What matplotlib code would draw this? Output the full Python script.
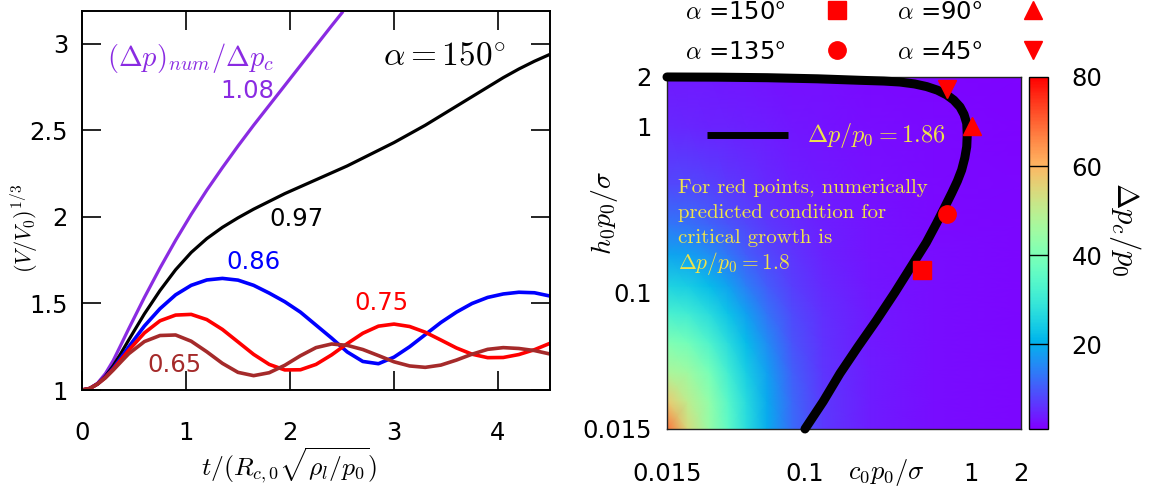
import numpy as np
import matplotlib
matplotlib.use("Agg")
import matplotlib.pyplot as plt
from matplotlib.ticker import NullLocator

plt.rcParams['font.family'] = 'DejaVu Sans'
plt.rcParams['mathtext.fontset'] = 'cm'
plt.rcParams['font.size'] = 17.5

# ---- left panel: (V/V0)^(1/3) against scaled time ----
t_grid = [0.0, 0.075, 0.15, 0.225, 0.3, 0.375, 0.45, 0.6, 0.75, 0.9, 1.05,
          1.2, 1.35, 1.5, 1.65, 1.8, 1.95, 2.1, 2.25, 2.4, 2.55, 2.7, 2.85,
          3.0, 3.15, 3.3, 3.45, 3.6, 3.75, 3.9, 4.05, 4.2, 4.35, 4.5]

t_108 = [0.0, 0.075, 0.15, 0.225, 0.3, 0.375, 0.45, 0.6, 0.75, 0.9, 1.05,
         1.2, 1.35, 1.5, 1.65, 1.8, 1.95, 2.1, 2.25, 2.4, 2.5]
r_108 = [1.0, 1.01, 1.04, 1.095, 1.17, 1.262, 1.355, 1.535, 1.705, 1.865, 2.015,
         2.155, 2.285, 2.41, 2.53, 2.645, 2.76, 2.875, 2.99, 3.105, 3.18]

r_097 = [1.0, 1.009, 1.035, 1.08, 1.14, 1.213, 1.29, 1.44, 1.575, 1.695, 1.795,
         1.875, 1.94, 1.995, 2.045, 2.09, 2.135, 2.175, 2.215, 2.255, 2.295,
         2.34, 2.385, 2.43, 2.48, 2.53, 2.585, 2.64, 2.695, 2.75, 2.805,
         2.855, 2.90, 2.94]
r_086 = [1.0, 1.009, 1.035, 1.075, 1.125, 1.187, 1.25, 1.37, 1.47, 1.55, 1.605,
         1.636, 1.645, 1.635, 1.605, 1.56, 1.51, 1.45, 1.375, 1.30, 1.22,
         1.165, 1.152, 1.19, 1.25, 1.32, 1.39, 1.45, 1.50, 1.535, 1.555,
         1.565, 1.562, 1.543]
r_075 = [1.0, 1.009, 1.035, 1.073, 1.12, 1.175, 1.23, 1.33, 1.40, 1.433, 1.437,
         1.407, 1.350, 1.278, 1.206, 1.148, 1.116, 1.117, 1.148, 1.203, 1.268,
         1.328, 1.369, 1.381, 1.367, 1.334, 1.289, 1.243, 1.207, 1.187, 1.188,
         1.205, 1.233, 1.27]
r_065 = [1.0, 1.009, 1.035, 1.07, 1.115, 1.163, 1.21, 1.28, 1.315, 1.318, 1.282,
         1.221, 1.154, 1.102, 1.083, 1.100, 1.143, 1.198, 1.245, 1.266, 1.258,
         1.234, 1.199, 1.163, 1.139, 1.131, 1.144, 1.173, 1.207, 1.235, 1.245,
         1.240, 1.228, 1.208]

left_yticks = [1, 1.5, 2, 2.5, 3]
left_yticklabels = ['1', '1.5', '2', '2.5', '3']
left_xticks = [0, 1, 2, 3, 4]

# ---- right panel: critical pressure map ----
c_nodes = [0.015, 0.02, 0.027, 0.035, 0.045, 0.06, 0.085, 0.13, 0.25, 0.6, 2.0]
h_nodes = [0.015, 0.022, 0.033, 0.05, 0.075, 0.11, 0.17, 0.26, 0.45, 1.0, 2.0]
dpc = [
    [68, 54, 44, 35.4, 27.3, 19.8, 11.9, 6.8, 3.9, 2.5, 1.8],
    [57, 50, 43, 34.3, 26.7, 19.4, 11.6, 6.8, 3.8, 2.5, 1.8],
    [47.4, 45.3, 39.2, 31.2, 24.7, 18, 10.6, 6.5, 3.8, 2.5, 1.76],
    [40.5, 38.5, 32.8, 27.2, 21.8, 15.8, 9.6, 6.2, 3.65, 2.47, 1.75],
    [31.9, 30.7, 27.2, 22.8, 18.1, 13.0, 8.5, 5.7, 3.5, 2.42, 1.73],
    [25.6, 24.6, 21.9, 18.5, 14.2, 10.3, 7.4, 5.1, 3.3, 2.36, 1.71],
    [18.8, 18.1, 15.9, 13.3, 10.4, 8.3, 6.3, 4.4, 3.0, 2.3, 1.69],
    [13.2, 12.7, 11.1, 9.5, 8.3, 6.7, 5.4, 4.1, 2.9, 2.2, 1.66],
    [8.4, 8.2, 7.5, 6.8, 6.2, 5.3, 4.3, 3.6, 2.74, 2.06, 1.62],
    [5.1, 5.0, 4.7, 4.4, 4.2, 3.9, 3.4, 2.9, 2.47, 1.94, 1.55],
    [3.7, 3.7, 3.6, 3.44, 3.23, 2.98, 2.84, 2.63, 2.23, 1.85, 1.46],
]

# contour of dp/p0 = 1.86
cont_c = [0.015, 0.03, 0.06, 0.12, 0.216, 0.3, 0.375, 0.46, 0.543, 0.63,
          0.716, 0.79, 0.861, 0.91, 0.945, 0.952, 0.945, 0.92, 0.881, 0.83,
          0.768, 0.70, 0.623, 0.54, 0.451, 0.35, 0.272, 0.21, 0.164, 0.13,
          0.101]
cont_h = [2.0, 1.995, 1.98, 1.95, 1.91, 1.89, 1.865, 1.815, 1.75, 1.665,
          1.56, 1.45, 1.32, 1.19, 1.05, 0.90, 0.759, 0.65, 0.549, 0.47,
          0.398, 0.33, 0.262, 0.2, 0.150, 0.1, 0.0682, 0.047, 0.0325, 0.022,
          0.015]

# numerical critical points for each contact angle
pt_labels = [r'$\alpha$ =150$^{\mathsf{o}}$', r'$\alpha$ =135$^{\mathsf{o}}$',
             r'$\alpha$ =90$^{\mathsf{o}}$', r'$\alpha$ =45$^{\mathsf{o}}$']
pt_c = [0.507, 0.716, 1.01, 0.716]
pt_h = [0.137, 0.298, 1.01, 1.69]
pt_marker = ['s', 'o', '^', 'v']

c_ticks = [0.015, 0.1, 1, 2]
c_ticklabels = ['0.015', '0.1', '1', '2']
h_ticks = [0.015, 0.1, 1, 2]
h_ticklabels = ['0.015', '0.1', '1', '2']
cb_ticks = [20, 40, 60, 80]

fig = plt.figure(figsize=(11.5, 4.86), dpi=100)

ax = fig.add_axes([0.0713, 0.1975, 0.407, 0.7798])
ax.plot(t_108, r_108, color='#8a2be2', lw=2.3)
ax.plot(t_grid, r_097, color='black', lw=2.3)
ax.plot(t_grid, r_086, color='#0000ff', lw=2.6)
ax.plot(t_grid, r_075, color='#ff0000', lw=2.6)
ax.plot(t_grid, r_065, color='#a52a2a', lw=2.6)
ax.set_xlim(0, 4.5)
ax.set_ylim(1, 3.19)
ax.set_xticks(left_xticks)
ax.set_yticks(left_yticks)
ax.set_yticklabels(left_yticklabels)
ax.tick_params(direction='in', length=14, width=1.2, top=True, right=True,
               labelsize=17.5)
ax.tick_params(axis='x', pad=22)
ax.tick_params(axis='y', pad=10)
for s in ax.spines.values():
    s.set_linewidth(1.4)

ax.text(0.24, 2.92, r'$(\Delta p)_{num}/\Delta p_c$', color='#8a2be2',
        fontsize=20.5, ha='left', va='center')
ax.text(1.59, 2.73, '1.08', color='#8a2be2', ha='center', va='center')
ax.text(3.48, 2.93, r'$\alpha = 150^{\circ}$', fontsize=24,
        ha='center', va='center')
ax.text(2.06, 1.99, '0.97', color='black', ha='center', va='center')
ax.text(1.65, 1.74, '0.86', color='#0000ff', ha='center', va='center')
ax.text(2.875, 1.50, '0.75', color='#ff0000', ha='center', va='center')
ax.text(0.885, 1.145, '0.65', color='#a52a2a', ha='center', va='center')

fig.text(289 / 1150, 1 - 466 / 486, r'$t/(R_{c,0}\sqrt{\rho_l/p_0})$',
         fontsize=18.5, ha='center', va='center')
fig.text(25 / 1150, 1 - 228 / 486, r'$(V/V_0)^{1/3}$', fontsize=16,
         rotation=90, ha='center', va='center')

# right panel
ax2 = fig.add_axes([0.5800, 0.1173, 0.3078, 0.7243])
mesh = ax2.pcolormesh(c_nodes, h_nodes, np.array(dpc), shading='gouraud',
                      cmap='rainbow', vmin=1, vmax=80)
ax2.set_xscale('log')
ax2.set_yscale('log')
ax2.set_xlim(0.015, 2)
ax2.set_ylim(0.015, 2)
ax2.plot(cont_c, cont_h, color='black', lw=6.5, solid_capstyle='round',
         solid_joinstyle='round', clip_on=False, zorder=3)
handles = []
for c, h, m, lab in zip(pt_c, pt_h, pt_marker, pt_labels):
    hdl, = ax2.plot([c], [h], m, color='#ff0000', ms=12.5, ls='none',
                    label=lab, clip_on=False, zorder=4)
    handles.append(hdl)

ax2.xaxis.set_minor_locator(NullLocator())
ax2.yaxis.set_minor_locator(NullLocator())
ax2.set_xticks(c_ticks)
ax2.set_xticklabels(c_ticklabels)
ax2.set_yticks(h_ticks)
ax2.set_yticklabels(h_ticklabels)
ax2.tick_params(length=0, labelsize=17.5)
ax2.tick_params(axis='x', pad=24)
ax2.tick_params(axis='y', pad=11)
for s in ax2.spines.values():
    s.set_linewidth(1.0)
    s.set_color('#222222')

ax2.plot([0.113, 0.342], [0.835, 0.835], color='black', lw=5,
         solid_capstyle='butt', transform=ax2.transAxes, zorder=3)
yellow = '#efe34a'
ax2.text(0.395, 0.835, r'$\Delta p/p_0 = 1.86$', color=yellow, fontsize=17.5,
         ha='left', va='center', transform=ax2.transAxes)
para = ['For red points, numerically', 'predicted condition for',
        'critical growth is']
for i, line in enumerate(para):
    ax2.text(0.031, 0.685 - 0.0715 * i, line, color=yellow, fontsize=15,
             family='cmr10', ha='left', va='center', transform=ax2.transAxes)
ax2.text(0.031, 0.469, r'$\Delta p/p_0 = 1.8$', color=yellow, fontsize=15.5,
         ha='left', va='center', transform=ax2.transAxes)

fig.text(886 / 1150, 1 - 472 / 486, r'$c_0p_0/\sigma$', fontsize=19,
         ha='center', va='center')
fig.text(604 / 1150, 1 - 213 / 486, r'$h_0p_0/\sigma$', fontsize=20,
         rotation=90, ha='center', va='center')

leg = ax2.legend(handles=handles, ncol=2, markerfirst=False, frameon=False,
                 loc='upper left', bbox_to_anchor=(0.596, 1.0),
                 bbox_transform=fig.transFigure, handlelength=1.0,
                 handletextpad=1.6, columnspacing=1.94, labelspacing=0.64,
                 borderpad=0, borderaxespad=0, fontsize=17.5)

cax = fig.add_axes([0.8948, 0.1173, 0.0165, 0.7243])
cb = fig.colorbar(mesh, cax=cax, ticks=cb_ticks)
cb.outline.set_linewidth(1.0)
cax.tick_params(length=0, pad=17, labelsize=17.5)
for v in cb_ticks[:-1]:
    cax.axhline(v, color='black', lw=1.0)
fig.text(1125 / 1150, 1 - 229 / 486, r'$\Delta p_c/p_0$', fontsize=22,
         rotation=270, ha='center', va='center')

fig.savefig('out.png', dpi=100)
